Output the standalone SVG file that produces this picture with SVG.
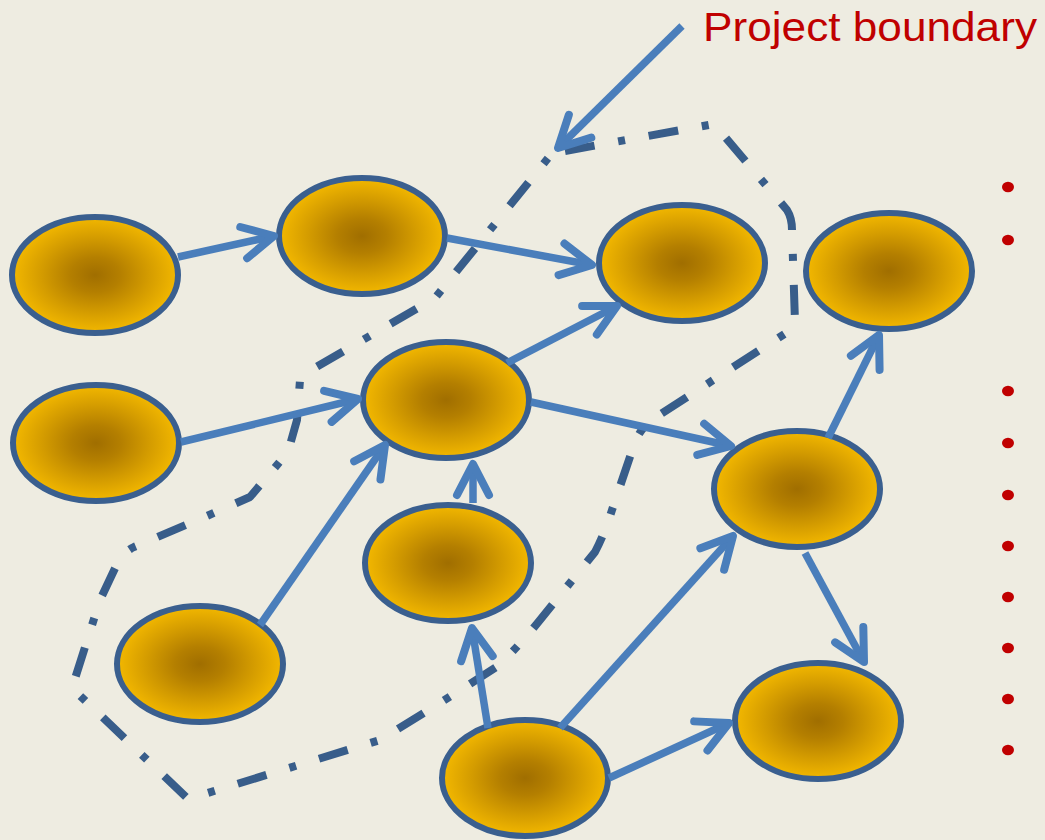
<svg xmlns="http://www.w3.org/2000/svg" width="1045" height="840" viewBox="0 0 1045 840">
  <defs>
    <radialGradient id="gold" cx="0.5" cy="0.5" r="0.5">
      <stop offset="0" stop-color="#A06E00"/>
      <stop offset="0.3" stop-color="#B47F00"/>
      <stop offset="0.65" stop-color="#D49C00"/>
      <stop offset="1" stop-color="#F3B800"/>
    </radialGradient>
    <marker id="ah" markerUnits="userSpaceOnUse" markerWidth="80" markerHeight="80" refX="0" refY="0" orient="auto" overflow="visible">
      <path d="M-31,-16 L0,0 L-31,16" fill="none" stroke="#4A7EBB" stroke-width="8" stroke-linecap="round" stroke-linejoin="round"/>
    </marker>
    <style>
      .node ellipse { fill: url(#gold); stroke: #3A5F8F; stroke-width: 6; }
      .arrow { fill: none; stroke: #4A7EBB; stroke-width: 7.5; marker-end: url(#ah); }
      .boundary { fill: none; stroke: #385D8A; stroke-width: 8; stroke-dasharray: 30 24 7 24; stroke-linejoin: round; }
      .bullet { fill: #C00000; }
      .label { font-family: "Liberation Sans", Arial, sans-serif; font-size: 41px; fill: #C00000; }
    </style>
  </defs>
  <rect width="1045" height="840" fill="#EEECE1"/>

  <g id="boundary">
    <path class="boundary" d="M565,151 L714,124 L787,210 Q792,218 792,230 L795,322 Q795,328 789,331 L650,421 Q640,430 635,442 L612,510 Q604,535 595,552 L540,620 Q520,645 498,666 L440,703 L380,740 L188,799 L72,688 L100,600 L118,562 Q124,552 134,547 L200,519 L250,497 L288,452 L297,420 L300,380 Q301,376 306,373 L435,298 L553,152 Z"/>
  </g>

  <g id="node1" class="node"><ellipse cx="95" cy="275" rx="83" ry="58"/></g>
  <g id="node2" class="node"><ellipse cx="362" cy="236" rx="83" ry="58"/></g>
  <g id="node3" class="node"><ellipse cx="682" cy="263" rx="83" ry="58"/></g>
  <g id="node4" class="node"><ellipse cx="889" cy="271" rx="83" ry="58"/></g>
  <g id="node5" class="node"><ellipse cx="96" cy="443" rx="83" ry="58"/></g>
  <g id="node6" class="node"><ellipse cx="446" cy="400" rx="83" ry="58"/></g>
  <g id="node7" class="node"><ellipse cx="448" cy="563" rx="83" ry="58"/></g>
  <g id="node8" class="node"><ellipse cx="797" cy="489" rx="83" ry="58"/></g>
  <g id="node9" class="node"><ellipse cx="200" cy="664" rx="83" ry="58"/></g>
  <g id="node10" class="node"><ellipse cx="525" cy="778" rx="83" ry="58"/></g>
  <g id="node11" class="node"><ellipse cx="818" cy="721" rx="83" ry="58"/></g>

  <g id="connectors">
    <line class="arrow" x1="178" y1="257" x2="274" y2="236"/>
    <line class="arrow" x1="447" y1="238" x2="592" y2="265"/>
    <line class="arrow" x1="507" y1="363" x2="617" y2="306"/>
    <line class="arrow" x1="181" y1="442" x2="358" y2="399"/>
    <line class="arrow" x1="531" y1="402" x2="731" y2="446"/>
    <line class="arrow" x1="260" y1="625" x2="385" y2="445"/>
    <line class="arrow" x1="473" y1="503" x2="473" y2="464"/>
    <line class="arrow" x1="488" y1="728" x2="472" y2="628"/>
    <line class="arrow" x1="560" y1="728" x2="733" y2="536"/>
    <line class="arrow" x1="609" y1="778" x2="729" y2="723"/>
    <line class="arrow" x1="805" y1="553" x2="864" y2="662"/>
    <line class="arrow" x1="828" y1="438" x2="879" y2="335"/>
    <line class="arrow" x1="682" y1="26" x2="558" y2="148"/>
  </g>

  <g id="label">
    <text class="label" x="703" y="41" textLength="334" lengthAdjust="spacingAndGlyphs">Project boundary</text>
  </g>

  <g id="bullets">
    <ellipse class="bullet" cx="1008" cy="187" rx="6" ry="5.3"/>
    <ellipse class="bullet" cx="1008" cy="240" rx="6" ry="5.3"/>
    <ellipse class="bullet" cx="1008" cy="391" rx="6" ry="5.3"/>
    <ellipse class="bullet" cx="1008" cy="443" rx="6" ry="5.3"/>
    <ellipse class="bullet" cx="1008" cy="495" rx="6" ry="5.3"/>
    <ellipse class="bullet" cx="1008" cy="546" rx="6" ry="5.3"/>
    <ellipse class="bullet" cx="1008" cy="597" rx="6" ry="5.3"/>
    <ellipse class="bullet" cx="1008" cy="648" rx="6" ry="5.3"/>
    <ellipse class="bullet" cx="1008" cy="699" rx="6" ry="5.3"/>
    <ellipse class="bullet" cx="1008" cy="750" rx="6" ry="5.3"/>
  </g>
</svg>
